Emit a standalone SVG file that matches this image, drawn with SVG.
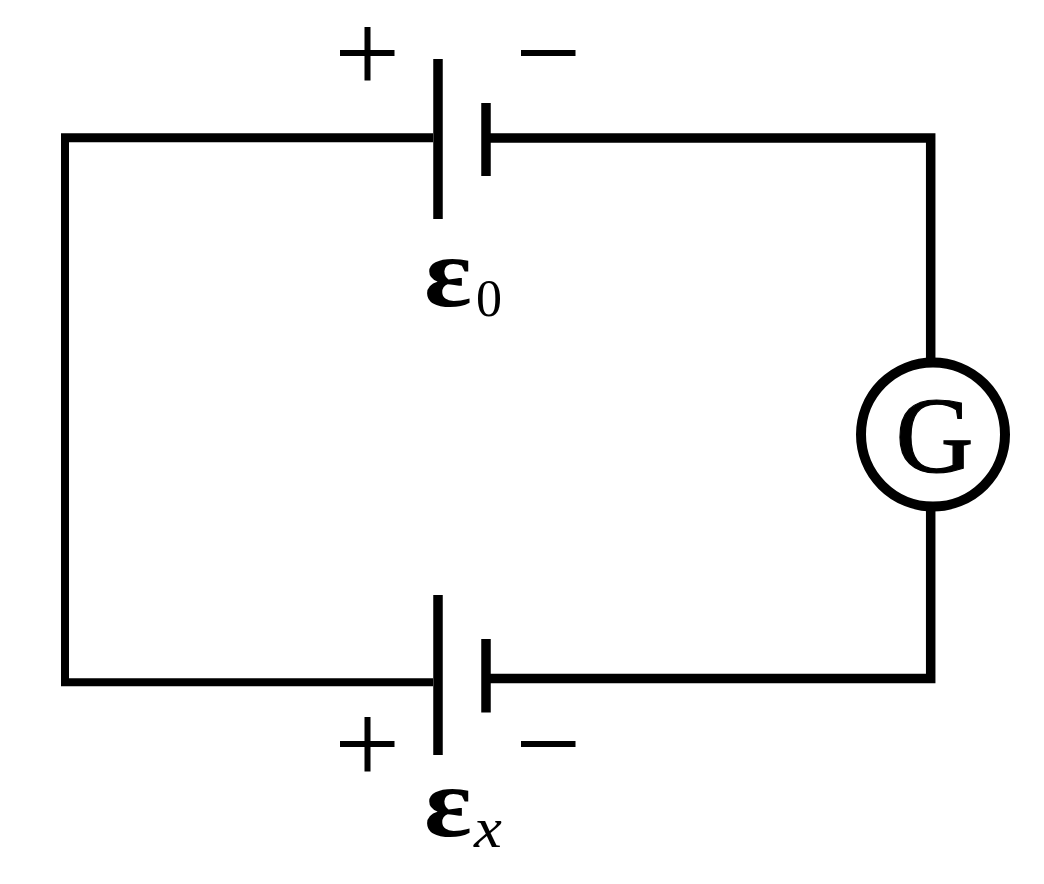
<svg xmlns="http://www.w3.org/2000/svg" width="1044" height="884" viewBox="0 0 1044 884">
<style>
.w{stroke:#000;stroke-width:9.500;fill:none}
.n{stroke:#000;stroke-width:8;fill:none}
.s{stroke:#000;stroke-width:6;fill:none}
.t{font-family:"Liberation Serif","Times New Roman",serif;fill:#000}
</style>
<rect width="1044" height="884" fill="#fff"/>
<g id="connectors">
<path class="n" d="M65 134V686"/>
<path d="M61 137.800H433" fill="none" stroke="#000" stroke-width="9"/>
<path class="n" d="M61 682.300H433"/>
<path class="w" d="M490 138H930.700V362"/>
<path class="w" d="M930.700 508V678.500H490"/>
</g>
<g id="battery-top">
<path class="w" d="M438 59V219M486 103V176"/>
<path class="s" d="M340 53H394.500M367.500 27V80.500M521 53H575.500"/>
<text class="t" transform="translate(424 306) scale(1.12 1)" font-size="100" font-weight="bold">ε</text>
<text class="t" x="476" y="316" font-size="52">0</text>
</g>
<g id="battery-bottom">
<path class="w" d="M438 595V755M486 639V712.500"/>
<path class="s" d="M340 744H394.500M367.500 717V771.500M521 744H575.500"/>
<text class="t" transform="translate(424 835.500) scale(1.12 1)" font-size="100" font-weight="bold">ε</text>
<text class="t" transform="translate(474 847) scale(1.1 1)" font-size="57" font-style="italic">x</text>
</g>
<g id="galvanometer">
<circle cx="933" cy="434.500" r="72" fill="none" stroke="#000" stroke-width="10"/>
<text class="t" x="934.500" y="472" font-size="108" text-anchor="middle" stroke="#000" stroke-width="1.200">G</text>
</g>
</svg>
